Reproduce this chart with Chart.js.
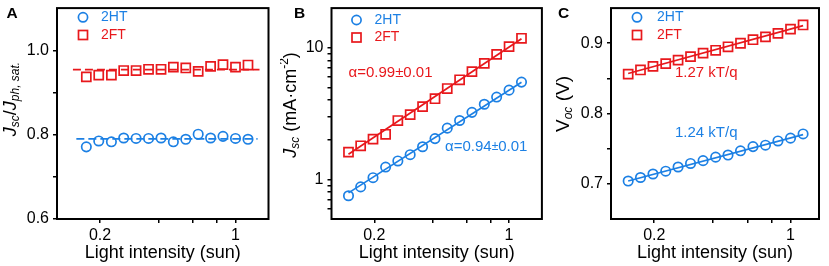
<!DOCTYPE html>
<html><head><meta charset="utf-8">
<script src="https://cdn.jsdelivr.net/npm/chart.js@4.4.1/dist/chart.umd.min.js"></script>
<style>
html,body{margin:0;padding:0;background:#fff;}
#wrap{position:relative;width:829px;height:266px;overflow:hidden;background:#fff;}
canvas{position:absolute;top:0;}
</style></head><body>
<div id="wrap">
<canvas id="cA" width="280" height="266" style="left:0px"></canvas>
<canvas id="cB" width="270" height="266" style="left:280px"></canvas>
<canvas id="cC" width="279" height="266" style="left:550px"></canvas>
</div>
<script>
// ---------- data ----------
const intensity = [0.147, 0.170, 0.197, 0.229, 0.265, 0.307, 0.356, 0.413, 0.478, 0.554, 0.642, 0.744, 0.862, 1.0, 1.16];
const intensityA = [0.170, 0.197, 0.229, 0.265, 0.307, 0.356, 0.413, 0.478, 0.554, 0.642, 0.744, 0.862, 1.0, 1.16];

const ratio2HT = [0.771, 0.785, 0.783, 0.792, 0.791, 0.791, 0.792, 0.783, 0.789, 0.801, 0.792, 0.796, 0.791, 0.789];
const ratio2FT = [0.937, 0.941, 0.941, 0.952, 0.952, 0.955, 0.955, 0.960, 0.958, 0.950, 0.962, 0.966, 0.960, 0.965];
const ratioFitX2HT = [0.151, 1.30];
const ratioFit2HT = [0.790, 0.790];
const ratioFitX2FT = [0.145, 1.33];
const ratioFit2FT = [0.954, 0.954];

const jsc2HT = [0.751, 0.877, 1.03, 1.24, 1.38, 1.54, 1.77, 2.04, 2.45, 2.80, 3.23, 3.72, 4.22, 4.76, 5.48];
const jsc2FT = [1.61, 1.80, 2.02, 2.20, 2.80, 3.10, 3.57, 4.10, 4.90, 5.71, 6.59, 7.60, 8.91, 10.2, 11.8];
const fitX = [0.147, 1.16];
const jscFit2HT = [0.79, 5.46];
const jscFit2FT = [1.55, 11.7];

const voc2HT = [0.704, 0.709, 0.714, 0.718, 0.724, 0.729, 0.733, 0.738, 0.741, 0.747, 0.753, 0.755, 0.761, 0.765, 0.771];
const voc2FT = [0.856, 0.862, 0.867, 0.871, 0.876, 0.881, 0.886, 0.890, 0.895, 0.900, 0.905, 0.909, 0.914, 0.920, 0.926];
const vocFit2HT = [0.704, 0.770];
const vocFit2FT = [0.857, 0.925];

const xTickValues = [0.2, 0.4, 0.6, 0.8, 1];
const xTickLabels = ['0.2', '', '', '', '1'];
const yTickValuesA = [0.6, 0.7, 0.8, 0.9, 1.0];
const yTickLabelsA = ['0.6', '', '0.8', '', '1.0'];
const yTickValuesB = [0.6, 0.7, 0.8, 0.9, 1, 2, 3, 4, 5, 6, 7, 8, 9, 10];
const yTickLabelsB = ['', '', '', '', '1', '', '', '', '', '', '', '', '', '10'];
const yTickValuesC = [0.7, 0.75, 0.8, 0.85, 0.9];
const yTickLabelsC = ['0.7', '', '0.8', '', '0.9'];

const seriesNames = ['2HT', '2FT'];

// ---------- style ----------
const FAM = '"Liberation Sans", Arial, Helvetica, sans-serif';
const BLUE = 'rgb(28,128,228)';
const RED = 'rgb(232,24,28)';
const BLACK = '#000';

function pts(xs, ys) { return ys.map((y, i) => ({x: xs[i], y: y})); }

function drawRich(ctx, parts, cx, cy, rotate, color) {
  ctx.save();
  ctx.translate(cx, cy);
  if (rotate) ctx.rotate(-Math.PI / 2);
  ctx.fillStyle = color;
  ctx.textBaseline = 'middle';
  ctx.textAlign = 'left';
  let widths = parts.map(p => { ctx.font = (p.style || '') + ' ' + p.size + 'px ' + FAM; return ctx.measureText(p.t).width; });
  let total = widths.reduce((a, b) => a + b, 0);
  let x = -total / 2;
  parts.forEach((p, i) => {
    ctx.font = (p.style || '') + ' ' + p.size + 'px ' + FAM;
    ctx.fillText(p.t, x, p.dy || 0);
    x += widths[i];
  });
  ctx.restore();
}

function makePanel(id, cfg) {
  const deco = {
    id: 'deco_' + id,
    afterDraw(chart) {
      const ctx = chart.ctx, a = chart.chartArea;
      ctx.save();
      ctx.strokeStyle = BLACK; ctx.lineWidth = 2;
      ctx.strokeRect(a.left, a.top, a.right - a.left, a.bottom - a.top);
      ctx.fillStyle = BLACK; ctx.font = 'bold 15.5px ' + FAM;
      ctx.textBaseline = 'alphabetic'; ctx.textAlign = 'left';
      ctx.fillText(cfg.letter, cfg.letterX, cfg.letterY);
      drawRich(ctx, cfg.yTitle, cfg.yTitleX, cfg.yTitleY, true, BLACK);
      const lx = a.left + cfg.legMarkerDX, tx = a.left + cfg.legTextDX;
      ctx.lineWidth = 1.7;
      ctx.strokeStyle = BLUE;
      ctx.beginPath(); ctx.arc(lx, cfg.legY1, 4.6, 0, Math.PI * 2); ctx.stroke();
      ctx.strokeStyle = RED;
      ctx.strokeRect(lx - 4.5, cfg.legY2 - 4.5, 9, 9);
      ctx.font = '14px ' + FAM; ctx.textBaseline = 'middle'; ctx.textAlign = 'left';
      ctx.fillStyle = BLUE; ctx.fillText(seriesNames[0], tx, cfg.legY1);
      ctx.fillStyle = RED; ctx.fillText(seriesNames[1], tx, cfg.legY2);
      (cfg.notes || []).forEach(n => {
        ctx.textBaseline = 'middle'; ctx.textAlign = 'left';
        let x = a.left + n.dx;
        n.parts.forEach(p => {
          ctx.font = p.size + 'px ' + FAM; ctx.fillStyle = n.color;
          ctx.fillText(p.t, x, n.y);
          x += ctx.measureText(p.t).width;
        });
      });
      ctx.restore();
    }
  };
  const tickGrid = {display: true, drawOnChartArea: false, drawTicks: true, tickLength: 4, color: BLACK, lineWidth: 1.5};
  return new Chart(document.getElementById(id), {
    type: 'scatter',
    data: {datasets: cfg.datasets},
    options: {
      responsive: false, animation: false, devicePixelRatio: 1,
      layout: {padding: {left: 0, right: cfg.padRight, top: 1, bottom: 0}},
      plugins: {legend: {display: false}, tooltip: {enabled: false}},
      scales: {
        x: {
          type: 'logarithmic', position: 'bottom', min: 0.12, max: cfg.xMax,
          afterFit(s) { s.height = 47; s.paddingLeft = 0; s.paddingRight = 0; },
          afterBuildTicks(s) { s.ticks = xTickValues.map(v => ({value: v})); },
          ticks: {callback: (v, i) => xTickLabels[i], autoSkip: false, maxRotation: 0, padding: 3,
                  color: BLACK, font: {family: FAM, size: 16}},
          grid: tickGrid, border: {display: false},
          title: {display: true, text: 'Light intensity (sun)', color: BLACK,
                  font: {family: FAM, size: 18}, padding: {top: 0, bottom: 2}}
        },
        y: {
          type: cfg.yType, position: 'left', min: cfg.yMin, max: cfg.yMax,
          afterFit(s) { s.width = cfg.yWidth; s.paddingTop = 0; s.paddingBottom = 0; },
          afterBuildTicks(s) { s.ticks = cfg.yTicks.map(v => ({value: v})); },
          ticks: {callback: (v, i) => cfg.yLabels[i], autoSkip: false, padding: 4,
                  color: BLACK, font: {family: FAM, size: 16}},
          grid: tickGrid, border: {display: false}
        }
      }
    },
    plugins: [deco]
  });
}

function markerSet(data, color, style) {
  return {data: data, showLine: false, pointStyle: style, pointRadius: style === 'rect' ? 6.4 : 4.7,
          pointBorderColor: color, pointBackgroundColor: 'rgba(0,0,0,0)', pointBorderWidth: 1.7,
          borderColor: color, backgroundColor: 'rgba(0,0,0,0)'};
}
function fitSet(data, color, dash) {
  return {data: data, showLine: true, pointRadius: 0, borderColor: color, borderWidth: 1.7,
          borderDash: dash || [], backgroundColor: 'rgba(0,0,0,0)'};
}

makePanel('cA', {
  letter: 'A', letterX: 6.5, letterY: 18.3,
  yTitle: [{t: 'J', size: 18, style: 'italic'}, {t: 'sc', size: 12, style: 'italic', dy: 5},
           {t: '/', size: 18}, {t: 'J', size: 18, style: 'italic'}, {t: 'ph, sat.', size: 12, style: 'italic', dy: 5}],
  yTitleX: 11, yTitleY: 99,
  legMarkerDX: 26, legTextDX: 44, legY1: 17.3, legY2: 35,
  padRight: 11.5, yWidth: 57, xMax: 1.48,
  yType: 'linear', yMin: 0.6, yMax: 1.1, yTicks: yTickValuesA, yLabels: yTickLabelsA,
  datasets: [
    markerSet(pts(intensityA, ratio2HT), BLUE, 'circle'),
    markerSet(pts(intensityA, ratio2FT), RED, 'rect'),
    fitSet(pts(ratioFitX2HT, ratioFit2HT), BLUE, [8, 4]),
    fitSet(pts(ratioFitX2FT, ratioFit2FT), RED, [8, 4])
  ]
});

makePanel('cB', {
  letter: 'B', letterX: 14, letterY: 18.3,
  yTitle: [{t: 'J', size: 18, style: 'italic'}, {t: 'sc', size: 12, style: 'italic', dy: 5},
           {t: ' (mA\u00B7cm', size: 18}, {t: '-2', size: 12, dy: -6}, {t: ')', size: 18}],
  yTitleX: 11, yTitleY: 105,
  legMarkerDX: 25, legTextDX: 43, legY1: 20, legY2: 37.5,
  padRight: 6.5, yWidth: 51.5, xMax: 1.48,
  yType: 'logarithmic', yMin: 0.5, yMax: 20, yTicks: yTickValuesB, yLabels: yTickLabelsB,
  notes: [
    {color: RED, dx: 17, y: 72.7, parts: [{t: '\u03B1=0.99\u00B10.01', size: 15}]},
    {color: BLUE, dx: 113.5, y: 146.7, parts: [{t: '\u03B1=0.94', size: 15}, {t: '\u00B1', size: 12}, {t: '0.01', size: 15}]}
  ],
  datasets: [
    markerSet(pts(intensity, jsc2HT), BLUE, 'circle'),
    markerSet(pts(intensity, jsc2FT), RED, 'rect'),
    fitSet(pts(fitX, jscFit2HT), BLUE),
    fitSet(pts(fitX, jscFit2FT), RED)
  ]
});

makePanel('cC', {
  letter: 'C', letterX: 8, letterY: 17.8,
  yTitle: [{t: 'V', size: 19}, {t: 'oc', size: 12, style: 'italic', dy: 5}, {t: ' (V)', size: 19}],
  yTitleX: 14, yTitleY: 104,
  legMarkerDX: 26, legTextDX: 46, legY1: 17.3, legY2: 35,
  padRight: 10, yWidth: 61, xMax: 1.40,
  yType: 'linear', yMin: 0.65, yMax: 0.95, yTicks: yTickValuesC, yLabels: yTickLabelsC,
  notes: [
    {color: RED, dx: 64, y: 72.7, parts: [{t: '1.27 kT/q', size: 15}]},
    {color: BLUE, dx: 64, y: 133.3, parts: [{t: '1.24 kT/q', size: 15}]}
  ],
  datasets: [
    markerSet(pts(intensity, voc2HT), BLUE, 'circle'),
    markerSet(pts(intensity, voc2FT), RED, 'rect'),
    fitSet(pts(fitX, vocFit2HT), BLUE),
    fitSet(pts(fitX, vocFit2FT), RED)
  ]
});
</script>
</body></html>
